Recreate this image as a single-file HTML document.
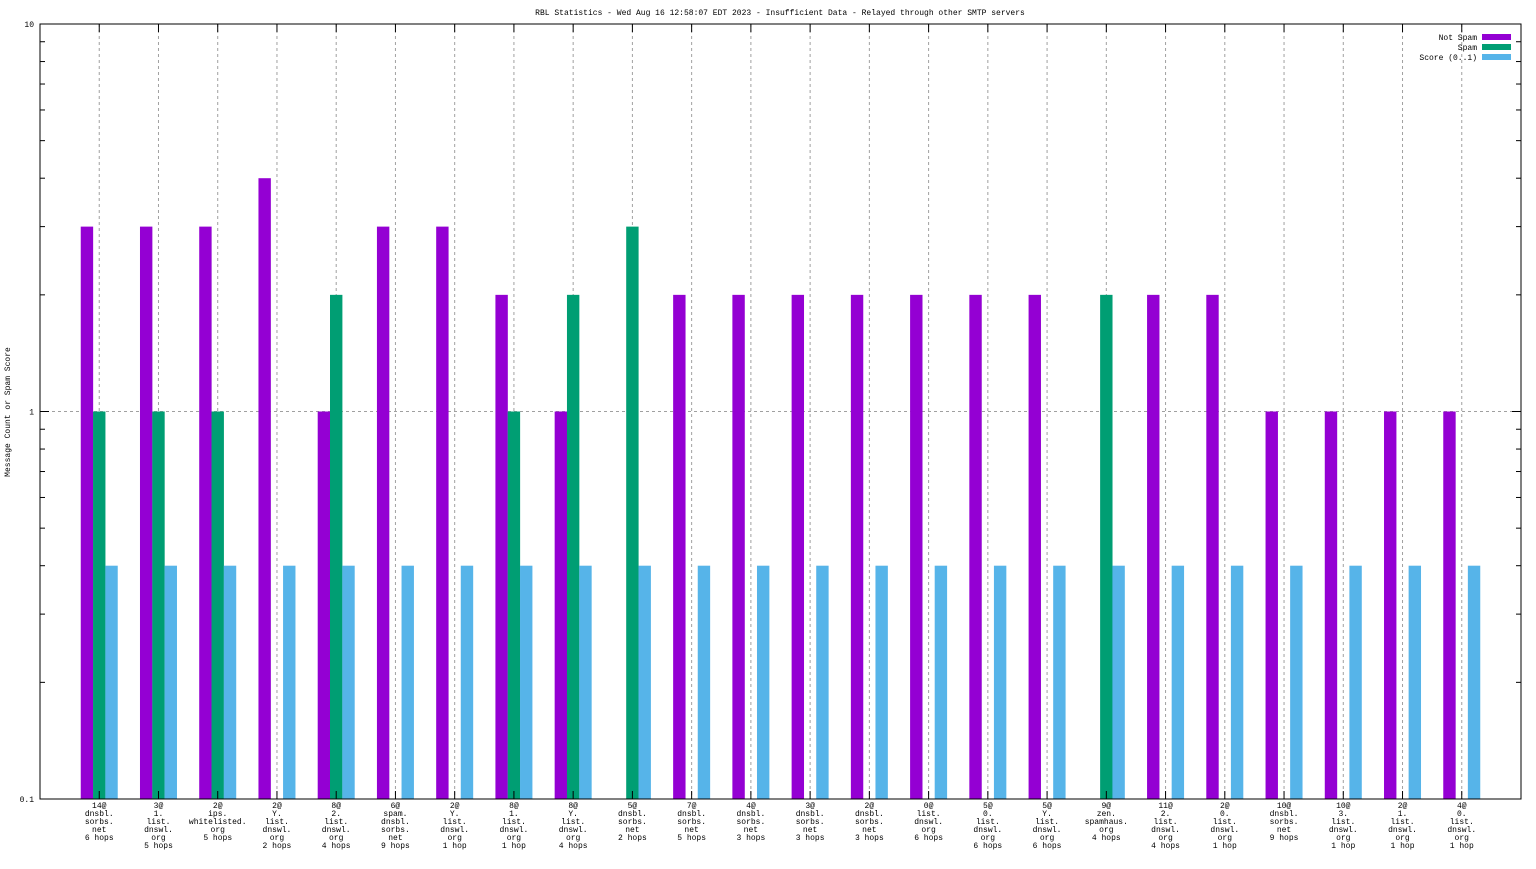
<!DOCTYPE html>
<html><head><meta charset="utf-8"><style>
body{margin:0;background:#fff}
svg text{font-family:"Liberation Mono","DejaVu Sans Mono",monospace;font-size:8px;fill:#000}
</style></head><body>
<svg id="c" width="1536" height="864" xmlns="http://www.w3.org/2000/svg">
<text x="780" y="15" text-anchor="middle">RBL Statistics - Wed Aug 16 12:58:07 EDT 2023 - Insufficient Data - Relayed through other SMTP servers</text>
<text transform="translate(10,412) rotate(-90)" text-anchor="middle">Message Count or Spam Score</text>
<g id="grid"></g><g id="bars"></g><g id="axes"></g>
<g>
<text x="1477" y="40" text-anchor="end">Not Spam</text>
<rect x="1482" y="34" width="29" height="6" fill="#9400d3"/>
<text x="1477" y="50" text-anchor="end">Spam</text>
<rect x="1482" y="44" width="29" height="6" fill="#009e73"/>
<text x="1477" y="60" text-anchor="end">Score (0..1)</text>
<rect x="1482" y="54" width="29" height="6" fill="#56b4e9"/>
</g>
</svg>
<script>
const categories=[
["14@","dnsbl.","sorbs.","net","6 hops"],["3@","1.","list.","dnswl.","org","5 hops"],["2@","ips.","whitelisted.","org","5 hops"],
["2@","Y.","list.","dnswl.","org","2 hops"],["8@","2.","list.","dnswl.","org","4 hops"],["6@","spam.","dnsbl.","sorbs.","net","9 hops"],
["2@","Y.","list.","dnswl.","org","1 hop"],["8@","1.","list.","dnswl.","org","1 hop"],["8@","Y.","list.","dnswl.","org","4 hops"],
["5@","dnsbl.","sorbs.","net","2 hops"],["7@","dnsbl.","sorbs.","net","5 hops"],["4@","dnsbl.","sorbs.","net","3 hops"],
["3@","dnsbl.","sorbs.","net","3 hops"],["2@","dnsbl.","sorbs.","net","3 hops"],["0@","list.","dnswl.","org","6 hops"],
["5@","0.","list.","dnswl.","org","6 hops"],["5@","Y.","list.","dnswl.","org","6 hops"],["9@","zen.","spamhaus.","org","4 hops"],
["11@","2.","list.","dnswl.","org","4 hops"],["2@","0.","list.","dnswl.","org","1 hop"],["10@","dnsbl.","sorbs.","net","9 hops"],
["10@","3.","list.","dnswl.","org","1 hop"],["2@","1.","list.","dnswl.","org","1 hop"],["4@","0.","list.","dnswl.","org","1 hop"]];
const notSpam=[3,3,3,4,1,3,3,2,1,0,2,2,2,2,2,2,2,0,2,2,1,1,1,1];
const spam=[1,1,1,0,2,0,0,1,2,3,0,0,0,0,0,0,0,2,0,0,0,0,0,0];
const score=[0.4,0.4,0.4,0.4,0.4,0.4,0.4,0.4,0.4,0.4,0.4,0.4,0.4,0.4,0.4,0.4,0.4,0.4,0.4,0.4,0.4,0.4,0.4,0.4];
const yTicks=[0.1,1,10];
const yTickLabels=["0.1","1","10"];
const NS="http://www.w3.org/2000/svg";
const L=40,R=1521,T=24,B=799;
function x(i){return L+(R-L)/(categories.length+1)*(i+1);}
function y(v){return B-(Math.log10(v)+1)/2*(B-T);}
function mk(tag,attrs,parent){const e=document.createElementNS(NS,tag);for(const k in attrs)e.setAttribute(k,attrs[k]);parent.appendChild(e);return e;}
const grid=document.getElementById('grid'),bars=document.getElementById('bars'),axes=document.getElementById('axes');
categories.forEach((c,i)=>{
  const g=mk('line',{x1:x(i),x2:x(i),y1:T,y2:B,stroke:'#a0a0a0','stroke-dasharray':'3,3'},grid);
  
  
  const t1=mk('line',{x1:x(i),x2:x(i),y1:T,y2:T+8,stroke:'#000'},axes);
  
  
  const t2=mk('line',{x1:x(i),x2:x(i),y1:B,y2:B-8,stroke:'#000'},axes);
  
  
  const tx=mk('text',{x:x(i),y:B+9,'text-anchor':'middle'},axes);
  
  
  c.forEach((ln,k)=>{const ts=mk('tspan',{x:x(i),dy:k?8:0},tx);ts.textContent=ln;});
  const series=[[notSpam,'#9400d3',-18.5,'bar-not-spam'],[spam,'#009e73',-6.2,'bar-spam'],[score,'#56b4e9',6.1,'bar-score']];
  series.forEach(s=>{const v=s[0][i];if(!(v>0))return;
    const yy=Math.max(T,y(v));
    const r=mk('rect',{x:x(i)+s[2],y:yy,width:12.4,height:B-yy,fill:s[1]},bars);
    
    
  });
});
const hg=mk('line',{x1:L,x2:R,y1:y(1),y2:y(1),stroke:'#a0a0a0','stroke-dasharray':'3,3'},grid);


yTicks.forEach((v,k)=>{
  const t=mk('text',{x:L-6,y:y(v)+3,'text-anchor':'end'},axes);t.textContent=yTickLabels[k];
  
  
  [[L,L+9],[R,R-9]].forEach(p=>{const l=mk('line',{x1:p[0],x2:p[1],y1:y(v),y2:y(v),stroke:'#000'},axes);
    
    });
  if(k<yTicks.length-1)for(let m=2;m<10;m++){
    [[L,L+5],[R,R-5]].forEach(p=>{const l=mk('line',{x1:p[0],x2:p[1],y1:y(v*m),y2:y(v*m),stroke:'#000'},axes);
      
      });
  }
});
const fr=mk('rect',{x:L,y:T,width:R-L,height:B-T,fill:'none',stroke:'#000','stroke-width':1},axes);


</script>
</body></html>
